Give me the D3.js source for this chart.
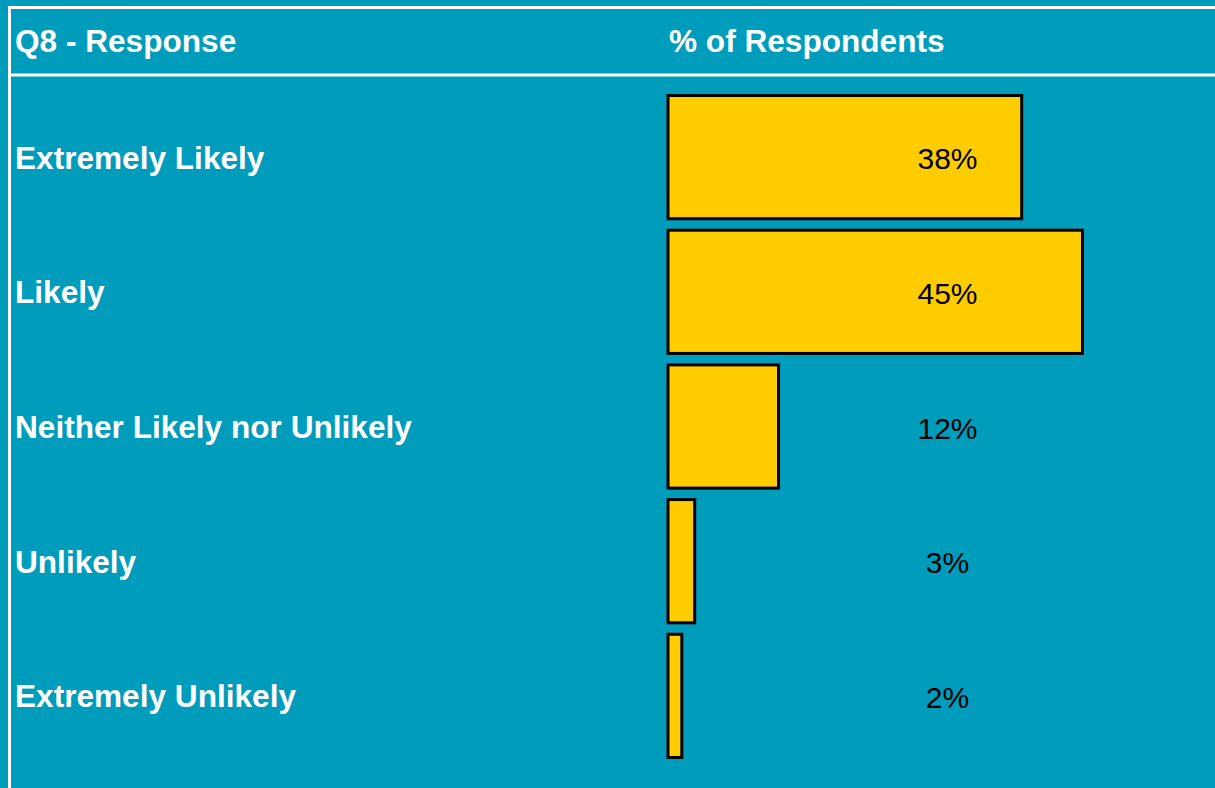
<!DOCTYPE html>
<html>
<head>
<meta charset="utf-8">
<script src="https://cdn.jsdelivr.net/npm/d3@7"></script>
<style>
  html, body { margin: 0; padding: 0; background: #009cbb; }
  svg { display: block; }
  text { font-family: "Liberation Sans", Arial, sans-serif; }
</style>
</head>
<body>
<div id="chart"></div>
<script>
// survey responses, percent of respondents
const categories = ["Extremely Likely", "Likely", "Neither Likely nor Unlikely", "Unlikely", "Extremely Unlikely"];
const values = [38.4, 45.0, 12.0, 2.9, 1.5];
const headers = ["Q8 - Response", "% of Respondents"];

const width = 1215, height = 788;

let svg = d3.select("#chart").append("svg")
    .attr("width", width)
    .attr("height", height);

svg.append("rect")
    .attr("width", width)
    .attr("height", height)
    .attr("fill", "#009cbb");

// white frame lines
svg.append("line").attr("x1", 8).attr("x2", width).attr("y1", 7.5).attr("y2", 7.5)
    .attr("stroke", "#fff").attr("stroke-width", 3);
svg.append("line").attr("x1", 9.5).attr("x2", 9.5).attr("y1", 6).attr("y2", height)
    .attr("stroke", "#fff").attr("stroke-width", 3);
svg.append("line").attr("x1", 11).attr("x2", width).attr("y1", 75).attr("y2", 75)
    .attr("stroke", "#fff").attr("stroke-width", 3);

// headers
svg.selectAll("text.header")
    .data(headers)
    .enter()
    .append("text")
    .attr("class", "header")
    .attr("x", (d, i) => i === 0 ? 15 : 669)
    .attr("y", 52)
    .attr("fill", "#fff")
    .attr("font-weight", "bold")
    .attr("font-size", 31.6)
    .text(d => d);

let x = d3.scaleLinear().domain([0, 45]).range([668, 1082.5]);
let y = d3.scaleBand().domain(categories).range([95.5, 757.5]).paddingInner(0.085).paddingOuter(0);

let rows = categories.map((c, i) => ({ name: c, value: values[i] }));

svg.selectAll("rect.bar")
    .data(rows)
    .enter()
    .append("rect")
    .attr("class", "bar")
    .attr("x", x(0))
    .attr("y", d => y(d.name))
    .attr("width", d => x(d.value) - x(0))
    .attr("height", y.bandwidth())
    .attr("fill", "#ffcc00")
    .attr("stroke", "#000")
    .attr("stroke-width", 3);

svg.selectAll("text.cat")
    .data(rows)
    .enter()
    .append("text")
    .attr("class", "cat")
    .attr("x", 15)
    .attr("y", d => y(d.name) + y.bandwidth() / 2 + 11.5)
    .attr("fill", "#fff")
    .attr("font-weight", "bold")
    .attr("font-size", 31.6)
    .text(d => d.name);

svg.selectAll("text.val")
    .data(rows)
    .enter()
    .append("text")
    .attr("class", "val")
    .attr("x", 947.5)
    .attr("y", d => y(d.name) + y.bandwidth() / 2 + 12)
    .attr("text-anchor", "middle")
    .attr("fill", "#000")
    .attr("font-size", 30)
    .text(d => Math.round(d.value) + "%");
</script>
</body>
</html>
